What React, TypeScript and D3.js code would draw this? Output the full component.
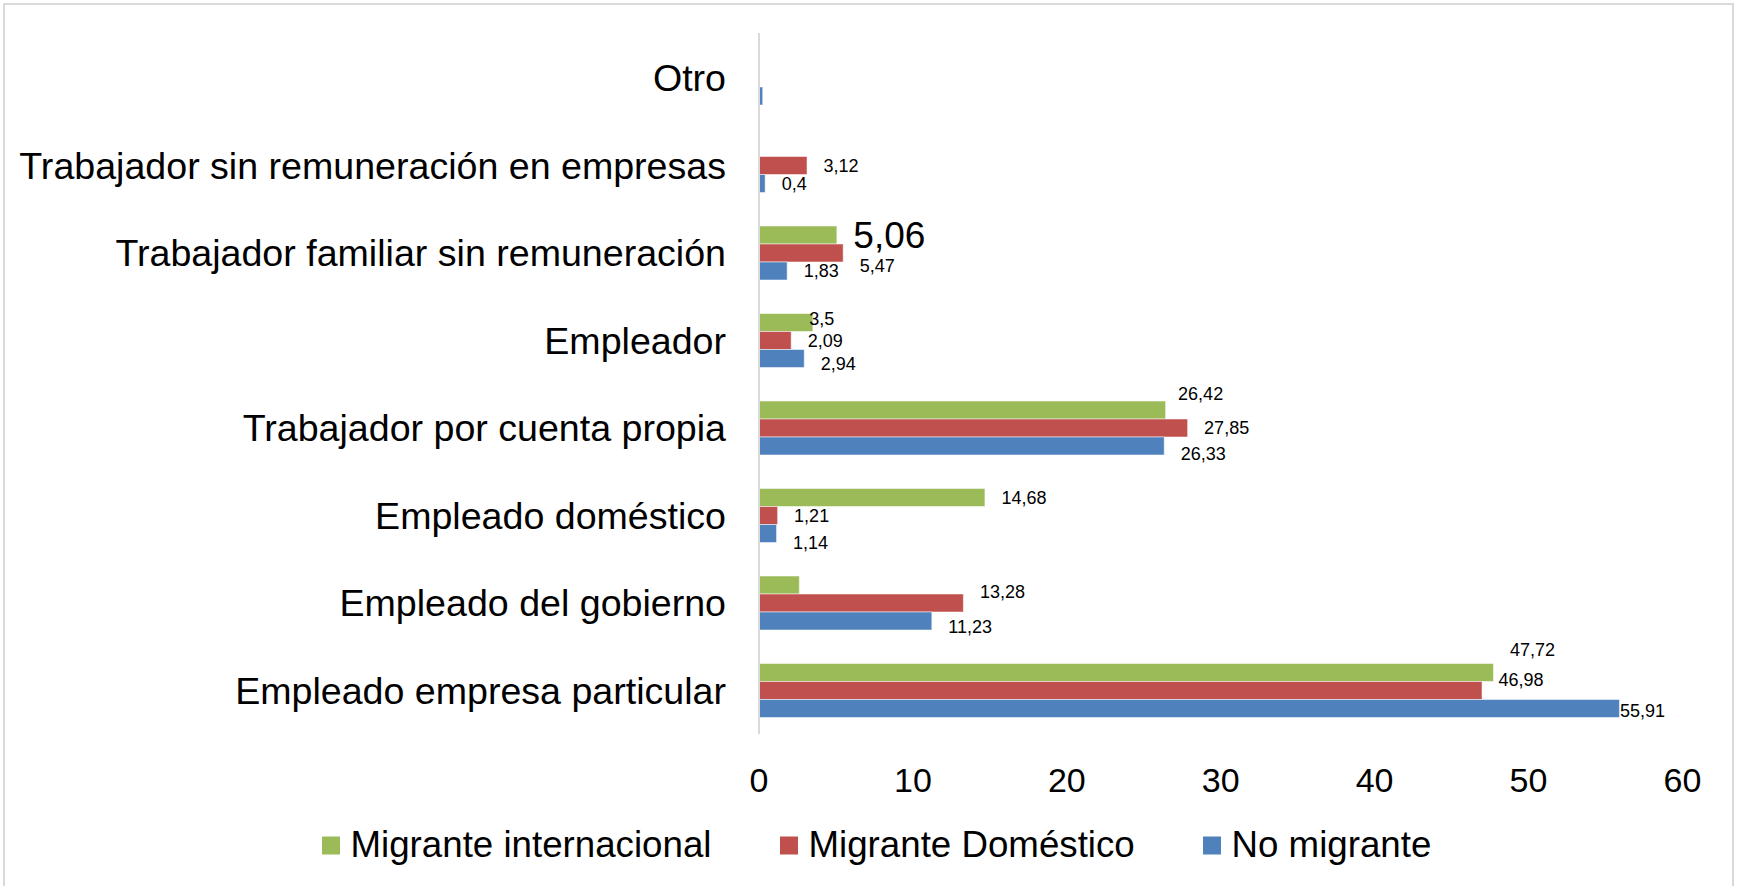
import * as d3 from "d3";
import React from "react";

// categories, top to bottom as in the chart
const categories = [
  "Otro",
  "Trabajador sin remuneración en empresas",
  "Trabajador familiar sin remuneración",
  "Empleador",
  "Trabajador por cuenta propia",
  "Empleado doméstico",
  "Empleado del gobierno",
  "Empleado empresa particular",
];

const seriesNames = ["Migrante internacional", "Migrante Doméstico", "No migrante"];
const seriesColors = ["#9BBB59", "#C0504D", "#4F81BD"];

const migranteInternacional = [0, 0, 5.06, 3.5, 26.42, 14.68, 2.62, 47.72];
const migranteDomestico = [0, 3.12, 5.47, 2.09, 27.85, 1.21, 13.28, 46.98];
const noMigrante = [0.24, 0.4, 1.83, 2.94, 26.33, 1.14, 11.23, 55.91];

const xTicks = [0, 10, 20, 30, 40, 50, 60];

// labels that are not shown in the chart
const hiddenLabels = ["0|0", "1|0", "2|0", "0|1", "0|6"];
// hand-moved labels: "series|category" -> [dx, dy]
const labelNudge: Record<string, [number, number]> = {
  "1|2": [0, 12.5],
  "0|3": [-20, -3.5],
  "2|3": [0, 5],
  "0|4": [-4, -16],
  "2|4": [0, 8],
  "2|5": [0, 9],
  "1|6": [0, -11],
  "2|6": [0, 6],
  "0|7": [0, -22.5],
  "1|7": [0, -10.5],
  "2|7": [-16, 2.5],
};
const bigLabels = ["0|2"];

const W = 1738;
const H = 886;

export default function App() {
  const values = [migranteInternacional, migranteDomestico, noMigrante];

  const x = d3.scaleLinear().domain([0, 60]).range([759, 1682.4]);
  const y = d3
    .scaleBand<string>()
    .domain(categories)
    .range([34.25, 734.25])
    .paddingInner(0.383)
    .paddingOuter(0.1915);
  const ys = d3.scaleBand<number>().domain([0, 1, 2]).range([0, y.bandwidth()]);

  const font = "'Liberation Sans', Arial, sans-serif";
  const legendX = [322, 780, 1203];

  return (
    <div style={{ position: "absolute", left: 0, top: 0 }}>
      <svg width={W} height={H} style={{ display: "block", background: "#fff" }}>
        <rect x={4} y={4} width={1729} height={H + 10} fill="#fff" stroke="#d9d9d9" strokeWidth={2} />

        {/* bars */}
        {values.map((vals, s) =>
          vals.map((v, i) =>
            v > 0 ? (
              <rect
                key={`b${s}-${i}`}
                x={x(0)}
                y={y(categories[i])! + ys(s)!}
                width={x(v) - x(0)}
                height={ys.bandwidth()}
                fill={seriesColors[s]}
                stroke="#ffffff"
                strokeOpacity={0.5}
                strokeWidth={1}
              />
            ) : null
          )
        )}

        {/* vertical axis line */}
        <line x1={x(0)} x2={x(0)} y1={33} y2={734} stroke="#d9d9d9" strokeWidth={2} />

        {/* category labels */}
        {categories.map((c) => (
          <text
            key={c}
            x={726}
            y={y(c)! + y.bandwidth() / 2}
            dy="0.35em"
            textAnchor="end"
            fontFamily={font}
            fontSize={37.6}
            fill="#000"
          >
            {c}
          </text>
        ))}

        {/* data labels */}
        {values.map((vals, s) =>
          vals.map((v, i) => {
            const k = `${s}|${i}`;
            if (hiddenLabels.includes(k)) return null;
            const n = labelNudge[k] || [0, 0];
            const big = bigLabels.includes(k);
            return (
              <text
                key={`l${k}`}
                x={x(v) + 16.5 + n[0]}
                y={y(categories[i])! + ys(s)! + ys.bandwidth() / 2 + n[1]}
                dy="0.36em"
                fontFamily={font}
                fontSize={big ? 37 : 18}
                fill="#000"
              >
                {String(v).replace(".", ",")}
              </text>
            );
          })
        )}

        {/* x tick labels */}
        {xTicks.map((t) => (
          <text key={t} x={x(t)} y={792} textAnchor="middle" fontFamily={font} fontSize={34} fill="#000">
            {t}
          </text>
        ))}

        {/* legend */}
        {seriesNames.map((name, s) => (
          <g key={name} transform={`translate(${legendX[s]},0)`}>
            <rect x={0} y={836.5} width={18} height={18} fill={seriesColors[s]} />
            <text x={28.5} y={857} fontFamily={font} fontSize={36.7} fill="#000">
              {name}
            </text>
          </g>
        ))}
      </svg>
    </div>
  );
}
